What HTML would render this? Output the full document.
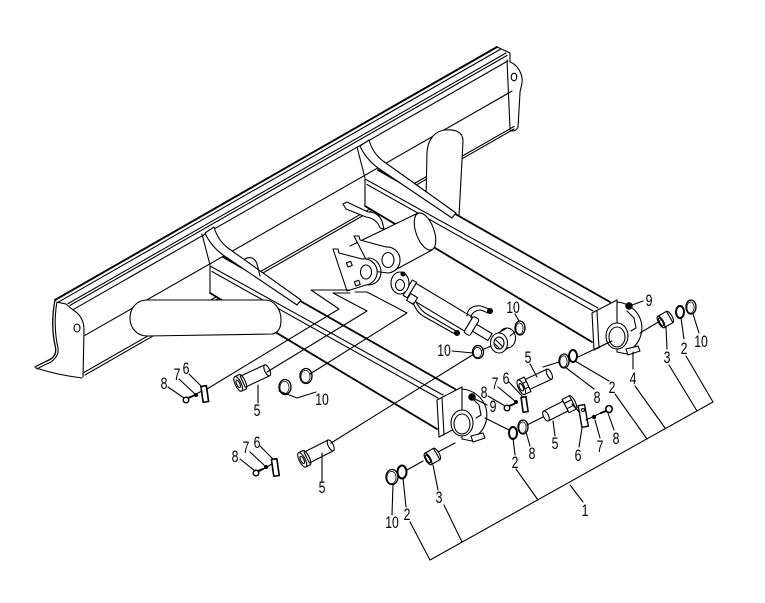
<!DOCTYPE html>
<html><head><meta charset="utf-8"><style>html,body{margin:0;padding:0;background:#fff}svg{display:block}</style></head><body>
<svg width="765" height="603" viewBox="0 0 765 603" xmlns="http://www.w3.org/2000/svg">
<rect width="765" height="603" fill="#fff"/>
<g fill="none" stroke="#000" stroke-width="1.1" stroke-linejoin="round" stroke-linecap="round">
<!-- BLADE -->
<path d="M55,300 L497,47" stroke-width="1.9"/>
<path d="M58,302.3 L500,49.5"/>
<path d="M68,303.6 L506,53"/>
<path d="M70,305.4 L507,55.5"/>
<path d="M73,309.7 L508,60.9"/>
<path d="M85,335.3 L512,91.1"/>
<path d="M83,373 L514,126.5"/>
<path d="M85,375 L514,129"/>
<!-- left end plate -->
<path d="M55,300 C52,315 52,332 55,345 C57,352 55,357 49,360 C45,362 40,364 35,367" stroke-width="1.3"/>
<path d="M57,302 C54,318 55,335 58,348 C59,354 56,358 51,362 C47,364 42,366 37,369"/>
<path d="M36,368 C48,372 66,376 82,378"/>
<path d="M58,302.3 L66,304 L73,310 C80,314 84,321 84,330 L83,377"/>
<ellipse cx="77" cy="328" rx="3" ry="4"/>
<!-- right end plate -->
<path d="M497,47 L510,53 L510,62 C516,64 521,71 522,78 C523,85 520,88 520,93 L518,127 C517,130 515,131 512,131 L510,130"/>
<path d="M507,60 L510,128"/>
<ellipse cx="514" cy="77" rx="2.8" ry="3.8"/>
<!-- upright plate -->
<path d="M426,200 L427,152 C428,139 435,131 445,130 C455,129 463,132 463,141 L459,216 Z" fill="#fff" stroke="none"/>
<path d="M426,200 L427,152 C428,139 435,131 445,130 C455,129 463,132 463,141 L459,216"/>

<!-- REAR ARM -->
<g id="arm">
<polygon points="365,179 378,170 610,300 617,300 620,337 594,350 592,342 365,206" fill="#fff" stroke="none"/>
<path d="M378,170 L610,302" stroke-width="1.8"/>
<path d="M365,179 L598,308"/>
<path d="M367,184.5 L593,311"/>
<path d="M365,206 L592,342" stroke-width="1.8"/>
<path d="M365,179 L365,206"/>
<path d="M369,140 C371,147 375,155 383,161 L456,213 L452,218 L378,168 C370,162 364,155 360,146 Z" fill="#fff"/>
<path d="M357,147 L365,178"/>
<polygon points="592,313 617,300 619,337 594,350" fill="#fff"/>
<path d="M597,311 L599,348"/>
<path d="M617,302 C629,303 638,311 641,321 C644,333 639,344 630,350 L627,354 L617,352 Z" fill="#fff"/>
<path d="M627,311 L634,318 L636,328 L631,331"/>
<ellipse cx="617" cy="336" rx="11" ry="13" fill="#fff"/>
<ellipse cx="617" cy="337" rx="8" ry="10"/>
<path d="M626,349 L638,346 L640,351 L628,355 Z" fill="#fff"/>
</g>

<!-- cylinder mount bracket -->
<path d="M343,204 L347,202 L368,212 C375,212 379,215 382,221 L384,229 L380,228 C378,222 373,218 366,217 L346,209 Z" fill="#fff"/>

<!-- TUBE -->
<path d="M340,250 L418,213 A9,19.5 -20 0 1 432,250 L395,271 L340,276 Z" fill="#fff" stroke="none"/>
<path d="M350,246 L418,213"/>
<path d="M395,270 L432,250"/>
<ellipse cx="425" cy="231.5" rx="9" ry="19.5" transform="rotate(-20 425 231.5)" fill="#fff"/>

<!-- clevis plates -->
<path d="M354,236 L359,236 L360,240 L386,247 A13,13 0 1 1 388,273 L372,271 Z" fill="#fff"/>
<ellipse cx="388" cy="260" rx="6" ry="7.5"/>
<path d="M333,249 L338,249 L339,253 L362,259 A13,13 0 1 1 366,285 L347,291 L340,270 Z" fill="#fff"/>
<path d="M368,258 C376,258 381,265 381,272 C381,280 375,285 368,285"/>
<ellipse cx="366" cy="272" rx="5.5" ry="7"/>
<rect x="347" y="262" width="4.5" height="4.5" fill="#fff" transform="rotate(-20 349 264)"/>
<rect x="355" y="281" width="4.5" height="4.5" fill="#fff" transform="rotate(-20 357 283)"/>

<!-- CYLINDER -->
<g transform="translate(400,283) rotate(31)">
<rect x="9" y="-9" width="5" height="18" fill="#fff"/>
<rect x="14" y="-8" width="66" height="16" fill="#fff"/>
<rect x="80" y="-9.5" width="7" height="19" rx="2" fill="#fff"/>
<rect x="87" y="-4" width="18" height="8" fill="#fff"/>
</g>
<ellipse cx="400" cy="283" rx="9" ry="11" fill="#fff"/>
<ellipse cx="400" cy="285" rx="4.5" ry="5.5"/>
<circle cx="403" cy="274" r="2" fill="#000"/>
<path d="M467,316 C467,309 473,305 481,306 L489,309"/>
<path d="M471,318 C471,313 476,310 481,310 L488,313"/>
<circle cx="490" cy="311" r="2.5" fill="#000"/>
<rect x="408" y="295" width="8" height="8" fill="#fff" transform="rotate(31 412 299)"/>
<path d="M413,303 C416,309 418,313 423,316 L455,334"/>
<path d="M416,302 C419,307 421,310 425,313 L456,331"/>
<circle cx="457" cy="333" r="2.5" fill="#000"/>
<ellipse cx="507" cy="338" rx="8.5" ry="10" fill="#fff"/>
<path d="M498,333 L507,328"/>
<path d="M500,352.5 L509,347.5"/>
<ellipse cx="499" cy="343" rx="8.5" ry="10" fill="#fff"/>
<ellipse cx="499" cy="343" rx="5" ry="6"/>
<path d="M496,340 L502,346 M495,344 L499,348"/>

<!-- FRONT ARM -->
<use href="#arm" transform="translate(-155,87)"/>
<path d="M245,259 C250,256 255,258 257,264 L260,276"/>
<!-- gusset -->
<path d="M147,300 L265,300 C275,300 281,310 281,320 C281,328 278,333 272,334 L147,336 C137,336 130,328 130,318 C130,308 137,300 147,300 Z" fill="#fff"/>

<!-- SMALL PARTS -->
<g transform="translate(240,383) rotate(-25)">
<rect x="3" y="-6" width="27" height="12" fill="#fff"/>
<ellipse cx="30" cy="0" rx="2.5" ry="6" fill="#fff"/>
<path d="M3,-8 A2.5,8 0 0 1 3,8"/>
<path d="M-2,-8 L3,-8 M-2,8 L3,8"/>
<ellipse cx="-2" cy="0" rx="3" ry="8" fill="#fff"/>
<ellipse cx="-2" cy="0" rx="1.6" ry="4"/>
</g>
<g transform="translate(304,459) rotate(-27)">
<rect x="3" y="-6" width="27" height="12" fill="#fff"/>
<ellipse cx="30" cy="0" rx="2.5" ry="6" fill="#fff"/>
<path d="M3,-8 A2.5,8 0 0 1 3,8"/>
<path d="M-2,-8 L3,-8 M-2,8 L3,8"/>
<ellipse cx="-2" cy="0" rx="3" ry="8" fill="#fff"/>
<ellipse cx="-2" cy="0" rx="1.6" ry="4"/>
</g>
<g transform="translate(524,386) rotate(-25)">
<rect x="4" y="-5.5" width="24" height="11" fill="#fff"/>
<ellipse cx="28" cy="0" rx="2.3" ry="5.5" fill="#fff"/>
<rect x="-3" y="-8" width="7" height="16" fill="#fff"/>
<path d="M-3,-3 L4,-3 M-3,3 L4,3"/>
<ellipse cx="-3" cy="0" rx="3" ry="8" fill="#fff"/>
<ellipse cx="-3" cy="0" rx="1.8" ry="4"/>
</g>
<g transform="translate(546,416) rotate(-27)">
<rect x="0" y="-5.5" width="22" height="11" fill="#fff"/>
<rect x="22" y="-7.5" width="8" height="15" fill="#fff"/>
<path d="M22,-3 L30,-3 M22,3 L30,3"/>
<path d="M30,-7.5 A2.5,7.5 0 0 1 30,7.5"/>
<ellipse cx="0" cy="0" rx="2.5" ry="5.5" fill="#fff"/>
</g>
<g transform="translate(661,322) rotate(-30)">
<rect x="0" y="-6.5" width="10" height="13" fill="#fff"/>
<path d="M10,-6.5 A2.5,6.5 0 0 1 10,6.5"/>
<ellipse cx="0" cy="0" rx="2.5" ry="6.5" fill="#fff"/>
<ellipse cx="0" cy="0" rx="1.5" ry="4.5"/>
</g>
<g transform="translate(428,459) rotate(-30)">
<rect x="0" y="-6.5" width="10" height="13" fill="#fff"/>
<path d="M10,-6.5 A2.5,6.5 0 0 1 10,6.5"/>
<ellipse cx="0" cy="0" rx="2.5" ry="6.5" fill="#fff"/>
<ellipse cx="0" cy="0" rx="1.5" ry="4.5"/>
</g>
<!-- rings -->
<ellipse cx="691" cy="307" rx="5" ry="7" stroke-width="1.3"/><ellipse cx="690.5" cy="307.5" rx="3.6" ry="5.6" stroke-width="0.8"/>
<ellipse cx="680" cy="312" rx="4" ry="6" stroke-width="2"/>
<ellipse cx="520" cy="328" rx="5" ry="7" stroke-width="1.3"/><ellipse cx="519.5" cy="328.5" rx="3.6" ry="5.6" stroke-width="0.8"/>
<ellipse cx="478" cy="352" rx="5.5" ry="6.5" stroke-width="1.3"/><ellipse cx="477.5" cy="352.5" rx="4.1" ry="5.1" stroke-width="0.8"/>
<ellipse cx="564" cy="361" rx="5" ry="7" stroke-width="1.3"/><ellipse cx="563.5" cy="361.5" rx="3.6" ry="5.6" stroke-width="0.8"/>
<ellipse cx="573" cy="356" rx="4" ry="6" stroke-width="2"/>
<ellipse cx="513" cy="433" rx="4" ry="6" stroke-width="2"/>
<ellipse cx="523" cy="427" rx="5" ry="7" stroke-width="1.3"/><ellipse cx="522.5" cy="427.5" rx="3.6" ry="5.6" stroke-width="0.8"/>
<ellipse cx="285" cy="387" rx="6" ry="7.5" stroke-width="1.3"/><ellipse cx="284.5" cy="387.5" rx="4.6" ry="6.1" stroke-width="0.8"/>
<ellipse cx="306" cy="376" rx="6" ry="7.5" stroke-width="1.3"/><ellipse cx="305.5" cy="376.5" rx="4.6" ry="6.1" stroke-width="0.8"/>
<ellipse cx="392" cy="477" rx="6" ry="7.5" stroke-width="1.3"/><ellipse cx="391.5" cy="477.5" rx="4.6" ry="6.1" stroke-width="0.8"/>
<ellipse cx="402" cy="472" rx="4.5" ry="6.5" stroke-width="2"/>
<!-- dots 9 -->
<circle cx="629" cy="306" r="3.2" fill="#000"/>
<circle cx="472" cy="397" r="3.2" fill="#000"/>
<!-- plates 6 -->
<rect x="202" y="386" width="5.5" height="16" transform="rotate(-8 204.5 394)" stroke-width="1.6" fill="#fff"/>
<rect x="272.5" y="459" width="5.5" height="17" transform="rotate(-8 275 467)" stroke-width="1.6" fill="#fff"/>
<rect x="522" y="397" width="5" height="15" transform="rotate(-8 524.5 404)" stroke-width="1.6" fill="#fff"/>
<rect x="580" y="405" width="6.5" height="22" transform="rotate(-10 583 416)" stroke-width="1.4" fill="#fff"/>
<circle cx="583" cy="410" r="1.5"/>
<!-- screws 8 and washers 7 -->
<path d="M188,398 L193,396" stroke-width="2"/><ellipse cx="186" cy="400" rx="2.8" ry="2.8" fill="#fff" stroke-width="1.4"/>
<path d="M258,471 L263,469" stroke-width="2"/><ellipse cx="256" cy="473" rx="2.8" ry="2.8" fill="#fff" stroke-width="1.4"/>
<path d="M509,406 L514,404" stroke-width="2"/><ellipse cx="507" cy="408" rx="2.8" ry="2.8" fill="#fff" stroke-width="1.4"/>
<path d="M606,411 L601,413" stroke-width="2"/><ellipse cx="609" cy="409" rx="3.2" ry="3.5" fill="#fff" stroke-width="1.6"/>
<circle cx="196" cy="395" r="1.5" fill="#000"/>
<circle cx="266" cy="467" r="1.5" fill="#000"/>
<circle cx="516" cy="402" r="1.5" fill="#000"/>
<circle cx="594" cy="417" r="1.6" fill="#000"/>

<!-- ASSEMBLY LINES -->
<path d="M350,290 L311,290 L339,309 L207,389"/>
<path d="M350,293 L333,293 L367,311 L267,372"/>
<path d="M355,292 L367,292 L407,313 L310,374"/>
<path d="M331,443 L474,354"/>
<path d="M482,350 L491,346"/>
<path d="M510,336 L516,331"/>
<path d="M455,443 L438,452"/>
<path d="M423,461 L407,470"/>
<path d="M640,333 L660,321"/>
<path d="M612,341 L578,357"/>
<path d="M543,367 L559,362"/>
<path d="M485,418 L509,430"/>
<path d="M527,425 L543,417"/>
<path d="M572,404 L580,413"/>
<path d="M586,420 L605,411"/>
<path d="M188,398 L202,391"/>
<path d="M258,472 L272,464"/>

<!-- LEADERS -->
<path d="M632,305 L643,301"/>
<path d="M693,314 L699,333"/>
<path d="M681,318 L684,339"/>
<path d="M666,327 L667,349"/>
<path d="M633,352 L633,369"/>
<path d="M686,356 L713,402"/>
<path d="M669,365 L697,411"/>
<path d="M635,386 L665,428"/>
<path d="M615,394 L647,439"/>
<path d="M575,361 L609,381"/>
<path d="M565,367 L594,389"/>
<path d="M430,560 L713,402"/>
<path d="M570,485 L583,502"/>
<path d="M538,500 L516,469"/>
<path d="M462,542 L444,505"/>
<path d="M430,560 L410,522"/>
<path d="M530,364 L537,377"/>
<path d="M488,396 L505,406"/>
<path d="M498,387 L515,401"/>
<path d="M509,382 L522,396"/>
<path d="M475,399 L487,405"/>
<path d="M526,432 L530,446"/>
<path d="M513,438 L515,455"/>
<path d="M553,421 L555,436"/>
<path d="M582,428 L579,447"/>
<path d="M595,420 L600,438"/>
<path d="M608,413 L614,430"/>
<path d="M515,314 L519,321"/>
<path d="M452,351 L473,353"/>
<path d="M168,387 L184,398"/>
<path d="M179,379 L195,394"/>
<path d="M189,374 L202,387"/>
<path d="M258,385 L258,403"/>
<path d="M279,391 L297,398 L316,392"/>
<path d="M240,459 L255,471"/>
<path d="M250,452 L264,465"/>
<path d="M260,446 L273,459"/>
<path d="M322,453 L322,481"/>
<path d="M393,484 L392,515"/>
<path d="M403,478 L406,507"/>
<path d="M433,465 L438,490"/>
</g>

<g font-family="Liberation Sans, Arial, sans-serif" font-size="17" text-anchor="middle" fill="#000">
<text transform="translate(649,306) scale(0.72,1)">9</text>
<text transform="translate(701,347) scale(0.72,1)">10</text>
<text transform="translate(684,354) scale(0.72,1)">2</text>
<text transform="translate(667,363) scale(0.72,1)">3</text>
<text transform="translate(633,384) scale(0.72,1)">4</text>
<text transform="translate(612,393) scale(0.72,1)">2</text>
<text transform="translate(597,403) scale(0.72,1)">8</text>
<text transform="translate(528,363) scale(0.72,1)">5</text>
<text transform="translate(513,313) scale(0.72,1)">10</text>
<text transform="translate(444,356) scale(0.72,1)">10</text>
<text transform="translate(484,398) scale(0.72,1)">8</text>
<text transform="translate(495,389) scale(0.72,1)">7</text>
<text transform="translate(506,384) scale(0.72,1)">6</text>
<text transform="translate(493,412) scale(0.72,1)">9</text>
<text transform="translate(532,459) scale(0.72,1)">8</text>
<text transform="translate(515,468) scale(0.72,1)">2</text>
<text transform="translate(555,449) scale(0.72,1)">5</text>
<text transform="translate(578,461) scale(0.72,1)">6</text>
<text transform="translate(600,452) scale(0.72,1)">7</text>
<text transform="translate(616,444) scale(0.72,1)">8</text>
<text transform="translate(585,516) scale(0.72,1)">1</text>
<text transform="translate(164,389) scale(0.72,1)">8</text>
<text transform="translate(177,380) scale(0.72,1)">7</text>
<text transform="translate(186,374) scale(0.72,1)">6</text>
<text transform="translate(257,416) scale(0.72,1)">5</text>
<text transform="translate(322,405) scale(0.72,1)">10</text>
<text transform="translate(235,462) scale(0.72,1)">8</text>
<text transform="translate(246,453) scale(0.72,1)">7</text>
<text transform="translate(257,448) scale(0.72,1)">6</text>
<text transform="translate(322,493) scale(0.72,1)">5</text>
<text transform="translate(392,528) scale(0.72,1)">10</text>
<text transform="translate(407,520) scale(0.72,1)">2</text>
<text transform="translate(439,503) scale(0.72,1)">3</text>
</g>
</svg>
</body></html>
